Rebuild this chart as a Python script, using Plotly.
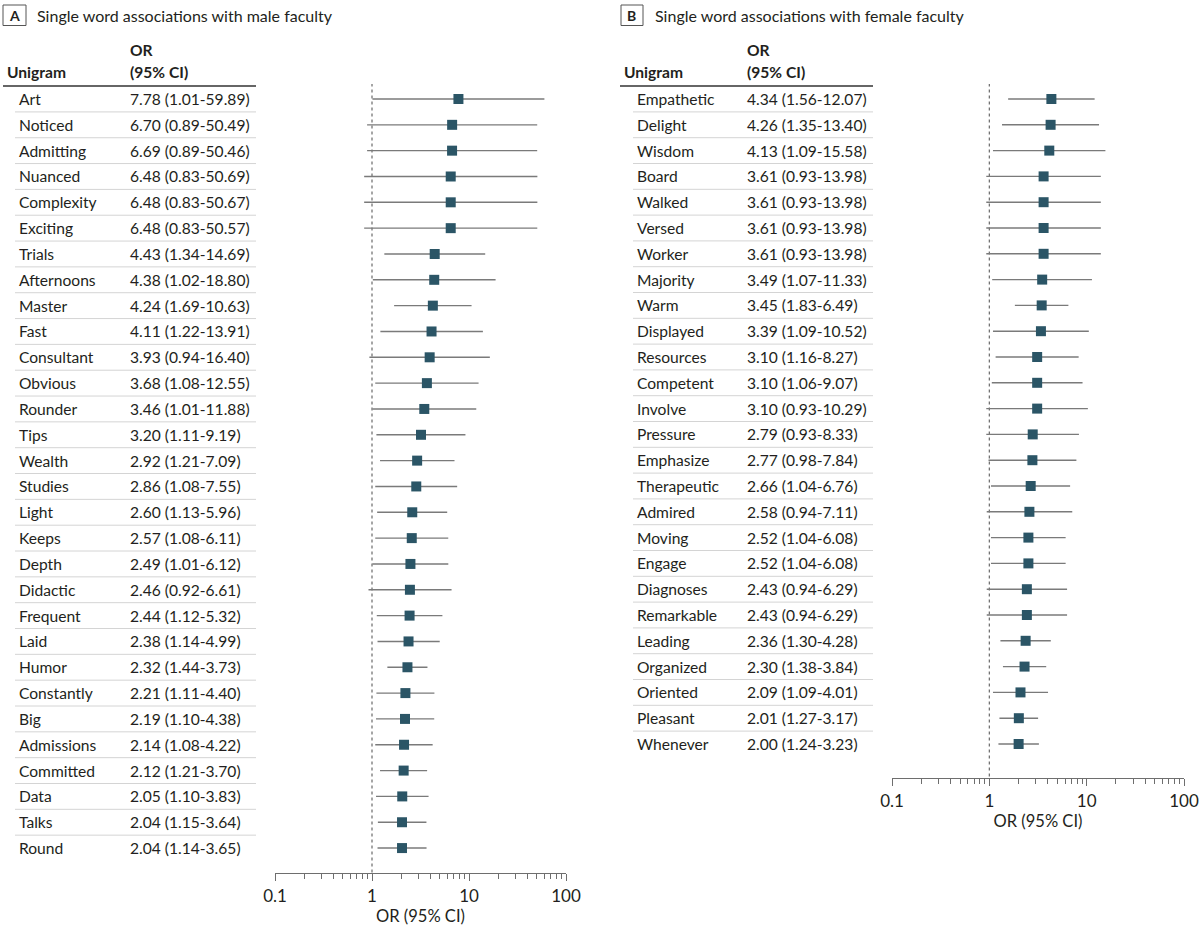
import plotly.graph_objects as go

# ---------------- data ----------------
A_words = ["Art", "Noticed", "Admitting", "Nuanced", "Complexity", "Exciting", "Trials",
           "Afternoons", "Master", "Fast", "Consultant", "Obvious", "Rounder", "Tips",
           "Wealth", "Studies", "Light", "Keeps", "Depth", "Didactic", "Frequent", "Laid",
           "Humor", "Constantly", "Big", "Admissions", "Committed", "Data", "Talks", "Round"]
A_or = [7.78, 6.70, 6.69, 6.48, 6.48, 6.48, 4.43, 4.38, 4.24, 4.11, 3.93, 3.68, 3.46, 3.20,
        2.92, 2.86, 2.60, 2.57, 2.49, 2.46, 2.44, 2.38, 2.32, 2.21, 2.19, 2.14, 2.12, 2.05,
        2.04, 2.04]
A_lo = [1.01, 0.89, 0.89, 0.83, 0.83, 0.83, 1.34, 1.02, 1.69, 1.22, 0.94, 1.08, 1.01, 1.11,
        1.21, 1.08, 1.13, 1.08, 1.01, 0.92, 1.12, 1.14, 1.44, 1.11, 1.10, 1.08, 1.21, 1.10,
        1.15, 1.14]
A_hi = [59.89, 50.49, 50.46, 50.69, 50.67, 50.57, 14.69, 18.80, 10.63, 13.91, 16.40, 12.55,
        11.88, 9.19, 7.09, 7.55, 5.96, 6.11, 6.12, 6.61, 5.32, 4.99, 3.73, 4.40, 4.38, 4.22,
        3.70, 3.83, 3.64, 3.65]

B_words = ["Empathetic", "Delight", "Wisdom", "Board", "Walked", "Versed", "Worker",
           "Majority", "Warm", "Displayed", "Resources", "Competent", "Involve", "Pressure",
           "Emphasize", "Therapeutic", "Admired", "Moving", "Engage", "Diagnoses",
           "Remarkable", "Leading", "Organized", "Oriented", "Pleasant", "Whenever"]
B_or = [4.34, 4.26, 4.13, 3.61, 3.61, 3.61, 3.61, 3.49, 3.45, 3.39, 3.10, 3.10, 3.10, 2.79,
        2.77, 2.66, 2.58, 2.52, 2.52, 2.43, 2.43, 2.36, 2.30, 2.09, 2.01, 2.00]
B_lo = [1.56, 1.35, 1.09, 0.93, 0.93, 0.93, 0.93, 1.07, 1.83, 1.09, 1.16, 1.06, 0.93, 0.93,
        0.98, 1.04, 0.94, 1.04, 1.04, 0.94, 0.94, 1.30, 1.38, 1.09, 1.27, 1.24]
B_hi = [12.07, 13.40, 15.58, 13.98, 13.98, 13.98, 13.98, 11.33, 6.49, 10.52, 8.27, 9.07,
        10.29, 8.33, 7.84, 6.76, 7.11, 6.08, 6.08, 6.29, 6.29, 4.28, 3.84, 4.01, 3.17, 3.23]

tick_vals = [0.1, 1, 10, 100]
tick_text = ["0.1", "1", "10", "100"]
minor_vals = [m * d for d in (0.1, 1, 10) for m in range(2, 10)]

panel_A_title = "Single word associations with male faculty"
panel_B_title = "Single word associations with female faculty"
col_word = "Unigram"
col_or = ["OR", "(95% CI)"]
axis_title = "OR (95% CI)"

# ---------------- style ----------------
W, H = 1200, 928
FONT = "Lato"
TXT = "#231f20"
MARK = "#2b5566"
CI = "#7a7a7a"
AXC = "#6e6e6e"
FS = 15.6


def px(x):
    return x / W


def py(y):
    return 1 - y / H


fig = go.Figure()


def add_panel(words, orv, lo, hi, xa, ya):
    n = len(words)
    rows = list(range(n))
    fig.add_trace(go.Scatter(
        x=[1, 1], y=[-0.6, n + 5], mode="lines", xaxis=xa, yaxis=ya,
        line=dict(color="#6a6a6a", width=1.2, dash="dot"), hoverinfo="skip",
        showlegend=False))
    fig.add_trace(go.Scatter(
        x=orv, y=rows, mode="markers", xaxis=xa, yaxis=ya, showlegend=False,
        marker=dict(symbol="square", size=10, color=MARK, line=dict(width=0)),
        error_x=dict(type="data", symmetric=False,
                     array=[h - o for h, o in zip(hi, orv)],
                     arrayminus=[o - l for o, l in zip(orv, lo)],
                     color=CI, thickness=1.4, width=0)))


add_panel(A_words, A_or, A_lo, A_hi, "x", "y")
add_panel(B_words, B_or, B_lo, B_hi, "x2", "y2")

annotations = []
shapes = []


def table(words, orv, lo, hi, yref, x_hdr, x_word, x_or, x_sep0, x_end, x_box0, x_box1,
          x_title, letter, title):
    # panel letter box + title
    shapes.append(dict(type="rect", xref="paper", yref="paper",
                       x0=px(x_box0), x1=px(x_box1), y0=py(25.5), y1=py(5.0),
                       line=dict(color="#555", width=1), fillcolor="white"))
    annotations.append(dict(text=f"<b>{letter}</b>", xref="paper", yref="paper",
                            x=px((x_box0 + x_box1) / 2), y=py(15.5), showarrow=False,
                            xanchor="center", yanchor="middle",
                            font=dict(family=FONT, size=14, color=TXT)))
    annotations.append(dict(text=title, xref="paper", yref="paper", x=px(x_title),
                            y=py(15), showarrow=False, xanchor="left", yanchor="middle",
                            font=dict(family=FONT, size=16, color=TXT)))
    # headers
    annotations.append(dict(text=f"<b>{col_word}</b>", xref="paper", yref="paper",
                            x=px(x_hdr), y=py(72), showarrow=False, xanchor="left",
                            yanchor="middle", font=dict(family=FONT, size=FS, color=TXT)))
    annotations.append(dict(text=f"<b>{col_or[0]}</b>", xref="paper", yref="paper",
                            x=px(x_or), y=py(50), showarrow=False, xanchor="left",
                            yanchor="middle", font=dict(family=FONT, size=FS, color=TXT)))
    annotations.append(dict(text=f"<b>{col_or[1]}</b>", xref="paper", yref="paper",
                            x=px(x_or), y=py(72), showarrow=False, xanchor="left",
                            yanchor="middle", font=dict(family=FONT, size=FS, color=TXT)))
    shapes.append(dict(type="line", xref="paper", yref="paper", x0=px(x_hdr - 2),
                       x1=px(x_end), y0=py(86), y1=py(86),
                       line=dict(color="#333", width=1.5)))
    n = len(words)
    for i, (w, o, l, h) in enumerate(zip(words, orv, lo, hi)):
        annotations.append(dict(text=w, xref="paper", yref=yref, x=px(x_word), y=i,
                                showarrow=False, xanchor="left", yanchor="middle",
                                font=dict(family=FONT, size=FS, color=TXT)))
        annotations.append(dict(text=f"{o:.2f} ({l:.2f}-{h:.2f})", xref="paper",
                                yref=yref, x=px(x_or), y=i, showarrow=False,
                                xanchor="left", yanchor="middle",
                                font=dict(family=FONT, size=FS, color=TXT)))
        if i < n - 1:
            shapes.append(dict(type="line", xref="paper", yref=yref, x0=px(x_sep0),
                               x1=px(x_end), y0=i + 0.5, y1=i + 0.5,
                               line=dict(color="#d4d4d4", width=1)))


table(A_words, A_or, A_lo, A_hi, "y", 5, 17, 128, 15, 256, 3, 26, 35, "A", panel_A_title)
table(B_words, B_or, B_lo, B_hi, "y2", 622, 635, 745, 633, 873, 621, 643, 653, "B",
      panel_B_title)


def xaxis(domain):
    return dict(type="log", range=[-1, 2], domain=domain, showgrid=False, zeroline=False,
                showline=True, linecolor=AXC, linewidth=1.2, ticks="outside", ticklen=7,
                tickcolor=AXC, tickwidth=1.2, tickvals=tick_vals, ticktext=tick_text,
                tickfont=dict(family=FONT, size=17, color=TXT),
                minor=dict(ticks="outside", ticklen=5, tickcolor=AXC, tickwidth=1.2,
                           tickvals=minor_vals, showgrid=False),
                title=dict(text=axis_title, font=dict(family=FONT, size=16.5, color=TXT),
                           standoff=5),
                automargin=False, fixedrange=True)


def yaxis(top_px, bot_px, spacing):
    return dict(domain=[py(bot_px), py(top_px)],
                range=[(bot_px - 99) / spacing, (top_px - 99) / spacing],
                visible=False, showgrid=False, zeroline=False, automargin=False,
                fixedrange=True)


xa = xaxis([px(275), px(566)])
xa.update(anchor="y")
xb = xaxis([px(892), px(1184)])
xb.update(anchor="y2")
ya = yaxis(84, 873, 25.83)
ya.update(anchor="x")
yb = yaxis(84, 778, 25.8)
yb.update(anchor="x2")

fig.update_layout(
    width=W, height=H, margin=dict(l=0, r=0, t=0, b=0),
    paper_bgcolor="white", plot_bgcolor="white",
    xaxis=xa, yaxis=ya, xaxis2=xb, yaxis2=yb,
    annotations=annotations, shapes=shapes, showlegend=False,
    font=dict(family=FONT, color=TXT),
)

fig.write_html("out.html")
